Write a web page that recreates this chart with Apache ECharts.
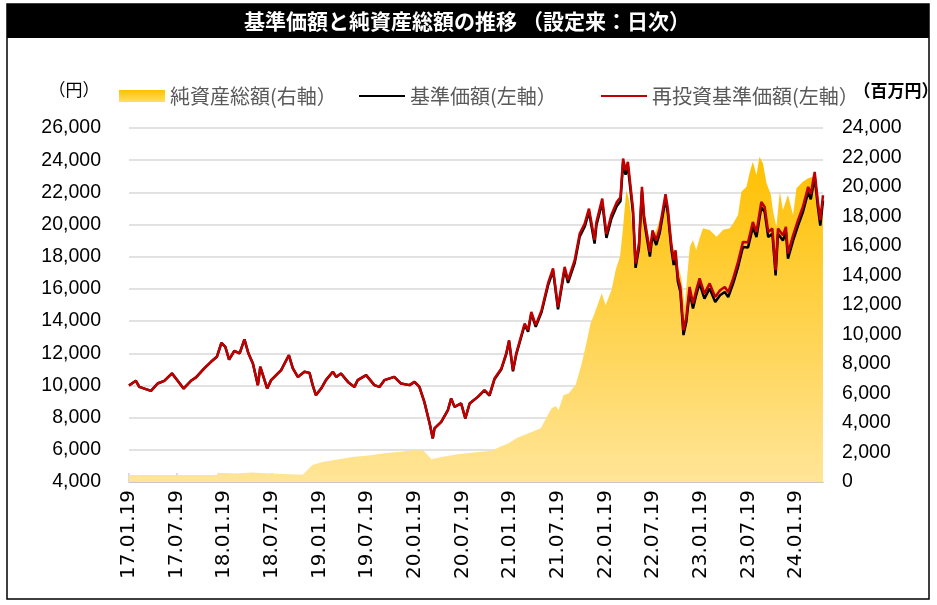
<!DOCTYPE html>
<html><head><meta charset="utf-8">
<script src="https://cdn.jsdelivr.net/npm/echarts@6/dist/echarts.min.js"></script>
<style>html,body{margin:0;padding:0;background:#fff}#c{width:937px;height:605px}</style>
</head><body><div id="c"></div>
<script>
const navDates = ["2017-01-19","2017-02-15","2017-02-28","2017-04-12","2017-05-07","2017-06-02","2017-07-01","2017-07-23","2017-08-15","2017-09-13","2017-10-02","2017-11-03","2017-11-29","2017-12-21","2018-01-08","2018-01-23","2018-02-07","2018-02-27","2018-03-17","2018-04-05","2018-04-20","2018-05-07","2018-05-26","2018-06-05","2018-07-01","2018-07-16","2018-08-24","2018-09-23","2018-10-08","2018-10-27","2018-11-22","2018-12-11","2018-12-23","2019-01-05","2019-01-25","2019-02-13","2019-03-09","2019-03-22","2019-04-10","2019-05-06","2019-05-31","2019-06-13","2019-07-15","2019-08-16","2019-09-05","2019-09-24","2019-11-01","2019-11-27","2019-12-29","2020-01-18","2020-02-06","2020-02-25","2020-03-15","2020-03-27","2020-04-03","2020-04-29","2020-05-24","2020-06-06","2020-06-19","2020-07-14","2020-07-30","2020-08-16","2020-09-17","2020-10-12","2020-11-01","2020-11-20","2020-12-16","2021-01-04","2021-01-15","2021-01-30","2021-02-12","2021-03-14","2021-03-27","2021-04-09","2021-04-26","2021-05-18","2021-06-12","2021-07-01","2021-07-20","2021-08-15","2021-08-28","2021-09-23","2021-10-12","2021-10-31","2021-11-17","2021-12-08","2021-12-15","2022-01-07","2022-01-23","2022-02-11","2022-03-02","2022-03-16","2022-03-26","2022-04-05","2022-04-14","2022-04-23","2022-05-03","2022-05-13","2022-05-26","2022-06-07","2022-06-15","2022-06-26","2022-07-07","2022-07-17","2022-08-01","2022-08-14","2022-09-06","2022-09-15","2022-09-28","2022-10-07","2022-10-14","2022-10-23","2022-11-02","2022-11-14","2022-11-25","2022-12-07","2022-12-20","2023-01-02","2023-01-15","2023-02-03","2023-02-23","2023-03-14","2023-04-02","2023-04-20","2023-05-03","2023-05-22","2023-06-10","2023-06-29","2023-07-18","2023-08-06","2023-08-20","2023-09-08","2023-09-21","2023-10-04","2023-10-20","2023-11-02","2023-11-11","2023-11-30","2023-12-11","2023-12-19","2024-01-08","2024-01-27","2024-02-15","2024-03-05","2024-03-15","2024-03-30","2024-04-12","2024-04-21","2024-05-01"];
const reinvestNav = [10000,10290,9910,9660,10120,10290,10750,10290,9810,10290,10500,11060,11470,11780,12650,12400,11610,12150,11990,12860,12000,11370,10020,11160,9810,10330,10950,11880,11060,10530,10850,10780,10020,9400,9810,10330,10850,10530,10740,10220,9910,10330,10640,10020,9910,10330,10530,10120,10020,10220,9910,8980,7640,6710,7330,7740,8470,9190,8670,8880,7950,8880,9290,9710,9400,10430,11060,11990,12810,10950,11990,13850,13440,14570,13750,14680,16340,17270,14880,17370,16540,17780,19440,20060,20990,19030,20160,21610,19400,20580,21400,21700,24100,23370,23890,22550,20990,17580,18820,22340,20580,19440,18300,19640,19020,19750,21880,20990,18820,17780,18400,16750,16120,13430,14260,16120,15090,15920,16650,15710,16340,15500,15920,16120,15810,16650,17680,18920,18900,20160,19540,21400,21090,19540,19750,17160,19750,19330,19850,18200,19330,20270,21090,22340,21900,23270,21400,20270,21820];
const nav = [10000,10290,9910,9660,10120,10290,10750,10290,9810,10290,10500,11060,11470,11780,12650,12400,11610,12150,11990,12860,12000,11370,10020,11160,9810,10330,10950,11880,11060,10530,10850,10780,10020,9400,9810,10330,10850,10530,10740,10220,9910,10330,10640,10020,9910,10330,10530,10120,10020,10220,9910,8980,7640,6710,7330,7740,8470,9190,8670,8880,7950,8880,9290,9690,9370,10390,11010,11930,12740,10880,11910,13760,13340,14460,13640,14560,16200,17120,14730,17210,16370,17600,19250,19860,20780,18820,19940,21380,19170,20340,21150,21450,23840,23100,23620,22280,20720,17310,18540,22060,20300,19160,18010,19350,18730,19460,21580,20690,18520,17480,18100,16450,15820,13130,13960,15820,14790,15620,16350,15400,16030,15190,15610,15810,15500,16340,17360,18600,18580,19840,19220,21080,20770,19220,19430,16840,19430,19010,19530,17880,19000,19940,20760,22010,21570,22940,21070,19940,21490];
const assetDates = ["2017-01-19","2017-12-20","2017-12-24","2018-03-01","2018-05-01","2018-06-28","2018-07-03","2018-11-15","2018-12-22","2019-01-30","2019-03-16","2019-05-23","2019-07-24","2019-09-24","2019-11-25","2020-01-22","2020-02-22","2020-03-22","2020-04-30","2020-07-01","2020-08-31","2020-11-09","2020-12-13","2021-01-13","2021-02-16","2021-03-29","2021-05-15","2021-06-07","2021-06-26","2021-07-11","2021-07-22","2021-08-11","2021-08-30","2021-09-27","2021-10-19","2021-11-08","2021-11-23","2021-12-08","2022-01-05","2022-01-20","2022-02-12","2022-02-28","2022-03-14","2022-03-25","2022-04-08","2022-04-16","2022-04-25","2022-05-10","2022-05-22","2022-06-04","2022-06-24","2022-07-07","2022-08-01","2022-08-27","2022-09-09","2022-09-28","2022-10-11","2022-10-23","2022-11-05","2022-11-19","2022-11-28","2022-12-08","2022-12-20","2023-01-02","2023-01-15","2023-01-28","2023-02-23","2023-03-19","2023-04-14","2023-05-09","2023-05-22","2023-06-10","2023-06-23","2023-07-12","2023-07-25","2023-08-06","2023-08-20","2023-09-01","2023-09-14","2023-09-28","2023-10-14","2023-10-23","2023-11-05","2023-11-18","2023-11-30","2023-12-19","2024-01-08","2024-01-21","2024-02-15","2024-03-05","2024-03-24","2024-04-12","2024-04-21","2024-05-01"];
const netAssets = [480,480,620,580,640,600,480,500,1150,1350,1500,1700,1800,1950,2050,2170,2120,1550,1700,1880,2000,2120,2400,2620,3000,3300,3640,4400,5000,5150,4880,5900,6000,6600,8000,9500,10760,11440,12790,12000,13020,14370,15270,17080,19800,19300,18330,15050,15400,19120,17310,16180,17080,18440,18560,16180,15500,14600,13920,11880,13920,15950,16410,15730,16520,17200,17080,16630,17100,17200,17540,18100,19680,20020,21040,21720,20810,22050,21610,20250,19500,18330,17310,19680,18440,19460,18100,19910,20360,20590,20700,19680,17650,19230];
const leftTicks = {min: 4000, max: 26000, step: 2000};
const rightTicks = {min: 0, max: 24000, step: 2000};
const seriesNames = ["純資産総額(右軸）", "基準価額(左軸）", "再投資基準価額(左軸）"];
const startDate = "2017-01-19";
const endDate = "2024-05-01";

function toM(s){
  const p = s.split("-").map(Number);
  const b = startDate.split("-").map(Number);
  return (p[0]-b[0])*12 + (p[1]-b[1]) + (p[2]-b[2])/30.44;
}
function pairs(dates, vals){ return dates.map((d,i)=>[toM(d), vals[i]]); }
function fmtNum(v){ return v.toLocaleString('en-US'); }
function fmtM(m){
  const b = startDate.split("-").map(Number);
  const tot = (b[1]-1) + Math.round(m);
  const y = b[0] + Math.floor(tot/12);
  const mo = tot % 12 + 1;
  return String(y).slice(2) + "." + String(mo).padStart(2,"0") + "." + String(b[2]).padStart(2,"0");
}

const areaGrad = new echarts.graphic.LinearGradient(0,0,0,1,[{offset:0,color:'#FFC000'},{offset:1,color:'#FFE598'}]);
const legendGrad = new echarts.graphic.LinearGradient(0,0,0,1,[{offset:0,color:'#FFC000'},{offset:1,color:'#FFE066'}]);
const FONT = "'Liberation Sans', Arial, sans-serif";
const CJK = "'Noto Sans CJK JP', sans-serif";
const legendText = {color:'#595959', fontSize:20, fontFamily: CJK};

const chart = echarts.init(document.getElementById('c'), null, {renderer:'canvas'});
chart.setOption({
  animation: false,
  backgroundColor: '#fff',
  graphic: [
    {type:'rect', shape:{x:7,y:4,width:922,height:595}, style:{fill:'none', stroke:'#000', lineWidth:1.5}, z:0},
    {type:'rect', shape:{x:7,y:4,width:922,height:34}, style:{fill:'#000'}, z:1},
    {type:'text', x:467, y:21, style:{text:'基準価額と純資産総額の推移 （設定来：日次）', fill:'#fff', font:"bold 21px 'Noto Sans CJK JP'", align:'center', verticalAlign:'middle'}, z:2},
    {type:'text', x:74, y:90, style:{text:'（円）', fill:'#000', font:"17px 'Noto Sans CJK JP'", align:'center', verticalAlign:'middle'}},
    {type:'text', x:896, y:91, style:{text:'（百万円）', fill:'#000', font:"bold 17px 'Noto Sans CJK JP'", align:'center', verticalAlign:'middle'}}
  ],
  legend: [
    {left: 119, top: 86, padding: 0, itemWidth: 46, itemHeight: 12, itemGap: 0, textStyle: legendText,
     data: [{name: seriesNames[0], icon:'rect', itemStyle:{color: legendGrad}}]},
    {left: 358, top: 86, padding: 0, itemWidth: 46, itemHeight: 12, itemGap: 0, textStyle: legendText,
     data: [{name: seriesNames[1], itemStyle:{opacity:0}}]},
    {left: 600, top: 86, padding: 0, itemWidth: 46, itemHeight: 12, itemGap: 0, textStyle: legendText,
     data: [{name: seriesNames[2], itemStyle:{opacity:0}}]}
  ],
  grid: {left:129, right:114, top:128, bottom:123, containLabel:false},
  xAxis: {
    type:'value', min:0, max: toM(endDate), interval:6,
    splitLine:{show:false},
    axisLine:{show:true, lineStyle:{color:'#BFBFBF', width:1.5}},
    axisTick:{show:true, inside:true, length:9, lineStyle:{color:'#D0D0D0', width:1.5}},
    axisLabel:{rotate:90, formatter: fmtM, color:'#000', fontSize:20, fontFamily:"'DejaVu Sans', sans-serif", margin:8, showMaxLabel:false}
  },
  yAxis: [
    {type:'value', min:leftTicks.min, max:leftTicks.max, interval:leftTicks.step,
     axisLine:{show:false}, axisTick:{show:false},
     splitLine:{show:true, lineStyle:{color:'#D9D9D9', width:1.5}},
     axisLabel:{formatter: fmtNum, color:'#000', fontSize:19.5, fontFamily:FONT, margin:28}},
    {type:'value', min:rightTicks.min, max:rightTicks.max, interval:rightTicks.step,
     axisLine:{show:false}, axisTick:{show:false}, splitLine:{show:false},
     axisLabel:{formatter: fmtNum, color:'#000', fontSize:19.5, fontFamily:FONT, margin:19}}
  ],
  series: [
    {name: seriesNames[0], type:'line', yAxisIndex:1, data: pairs(assetDates, netAssets),
     symbol:'none', showSymbol:false, lineStyle:{width:0, color:'#FFC000'}, itemStyle:{color:'#FFC000'},
     areaStyle:{color: areaGrad, opacity:1}, z:1},
    {name: seriesNames[1], type:'line', yAxisIndex:0, data: pairs(navDates, nav),
     symbol:'none', showSymbol:false, lineStyle:{width:2.5, color:'#000'}, itemStyle:{color:'#000'}, z:2},
    {name: seriesNames[2], type:'line', yAxisIndex:0, data: pairs(navDates, reinvestNav),
     symbol:'none', showSymbol:false, lineStyle:{width:2.5, color:'#C00000'}, itemStyle:{color:'#C00000'}, z:3}
  ]
});
</script></body></html>
